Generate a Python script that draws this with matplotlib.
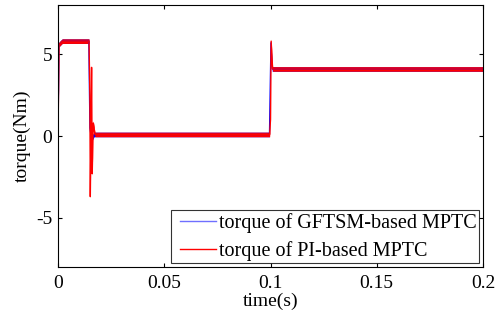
import numpy as np
import matplotlib.pyplot as plt
from matplotlib.lines import Line2D
from matplotlib.legend_handler import HandlerLine2D

plt.rcParams['font.family'] = ['Liberation Serif', 'DejaVu Serif']
plt.rcParams['axes.unicode_minus'] = False

# breakpoints of the torque traces (time in s, torque in Nm)
t_gftsm = [0, 0.0005, 0.002, 0.0145, 0.0150, 0.0158, 0.0170, 0.0995, 0.1002, 0.1008, 0.2]
tq_gftsm = [0, 5.6, 5.8, 5.8, 0.5, -0.2, 0.1, 0.1, 5.7, 4.1, 4.1]

t_pi = [0, 0.0005, 0.002, 0.0146, 0.0150, 0.0152, 0.0156, 0.0158, 0.0161, 0.0166, 0.0174,
        0.0996, 0.1000, 0.1003, 0.1010, 0.2]
tq_pi = [0, 5.6, 5.8, 5.8, 2.5, -3.7, 1.0, 4.2, -2.3, 0.8, 0.1,
         0.1, 1.0, 5.8, 4.1, 4.1]

# half width of the ripple band seen on the steady parts (Nm)
ripple_gftsm = 0.14
ripple_pi = 0.14

fig = plt.figure(figsize=(5.0, 3.21), dpi=100)
ax = fig.add_axes([0.116, 0.168, 0.85, 0.816])

tg = np.array(t_gftsm)
qg = np.array(tq_gftsm)
tp = np.array(t_pi)
qp = np.array(tq_pi)

ax.fill_between(tg, qg - ripple_gftsm, qg + ripple_gftsm, color='blue', lw=0)
ax.plot(tg, qg, color='blue', lw=0.9, label='torque of GFTSM-based MPTC')
ax.fill_between(tp, qp - ripple_pi, qp + ripple_pi, color='red', lw=0)
ax.plot(tp, qp, color='red', lw=1.0, label='torque of PI-based MPTC')

ax.set_xlim(0, 0.2)
ax.set_ylim(-8, 8)
ax.set_xticks([0, 0.05, 0.1, 0.15, 0.2])
ax.set_xticklabels(['0', '0.05', '0.1', '0.15', '0.2'])
ax.set_yticks([-5, 0, 5])
ax.tick_params(direction='in', top=True, right=True, labelsize=14, length=3)
ax.tick_params(axis='x', pad=6)
ax.tick_params(axis='y', pad=4)
ax.set_xlabel('time(s)', fontsize=14, labelpad=0)
ax.set_ylabel('torque(Nm)', fontsize=14, labelpad=4)

leg = ax.legend(loc='lower right', fontsize=14.5, fancybox=False, edgecolor='black',
                borderaxespad=0.2, borderpad=0.12, handlelength=2.1, handletextpad=0.15,
                labelspacing=0.4, handler_map={Line2D: HandlerLine2D(xpad=0.3)})
leg.get_frame().set_linewidth(0.8)
leg_lines = leg.get_lines()
leg_lines[0].set_color('#6f6fff')
for line in leg_lines:
    line.set_linewidth(1.0)

fig.savefig('out.png', dpi=100)
